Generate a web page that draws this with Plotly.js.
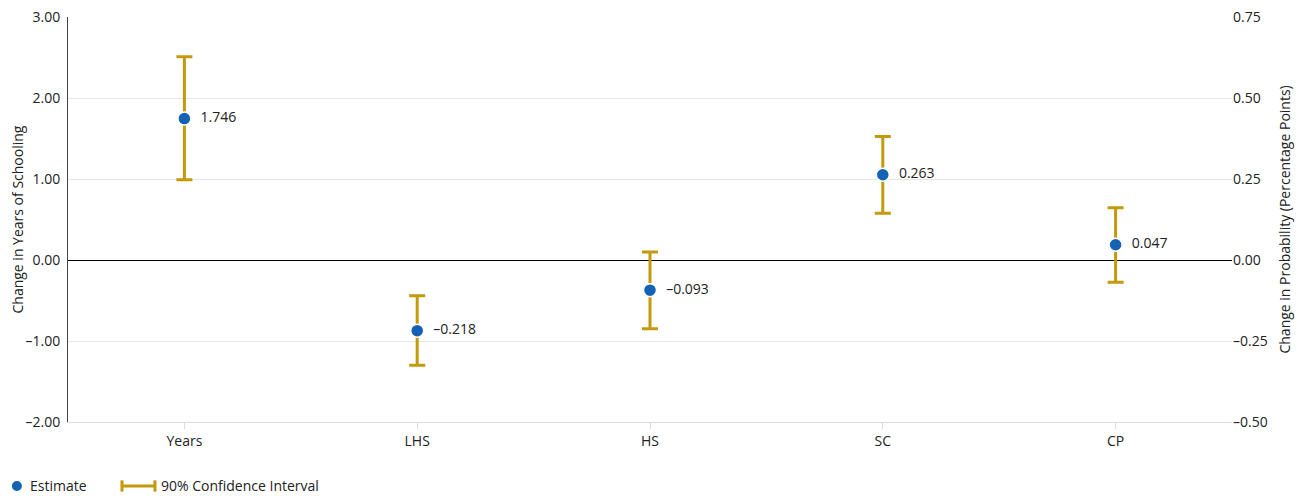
<!DOCTYPE html>
<html>
<head>
<meta charset="utf-8">
<script src="https://cdn.plot.ly/plotly-3.0.1.min.js"></script>
<style>
  html, body { margin: 0; padding: 0; background: #fff; }
  #chart { width: 1300px; height: 496px; }
</style>
</head>
<body>
<div id="chart"></div>
<script>
// Outcome categories
const categories = ["Years", "LHS", "HS", "SC", "CP"];

// Years of schooling (left axis)
const yearsEstimate = [1.746];
const yearsLow = [0.99];
const yearsHigh = [2.51];

// Attainment probabilities (right axis, percentage points)
const probCategories = ["LHS", "HS", "SC", "CP"];
const probEstimate = [-0.218, -0.093, 0.263, 0.047];
const probLow = [-0.325, -0.212, 0.144, -0.069];
const probHigh = [-0.110, 0.025, 0.381, 0.161];

// Axis ticks
const leftTicks = [-2, -1, 0, 1, 2, 3];
const rightTicks = [-0.5, -0.25, 0, 0.25, 0.5, 0.75];

const BLUE = "#1462b4";
const GOLD = "#c49a0c";
const FONT = "Open Sans, Noto Sans, sans-serif";
const FS = 14;

const fmt = (v, d) => (v < 0 ? "\u2013" : "") + Math.abs(v).toFixed(d);

function trace(xs, est, lo, hi, axis) {
  return {
    type: "scatter",
    mode: "markers+text",
    x: xs,
    y: est,
    yaxis: axis,
    // en space keeps the value clear of the marker
    text: est.map(v => "\u2002" + fmt(v, 3)),
    textposition: "middle right",
    textfont: { family: FONT, size: FS, color: "#222" },
    cliponaxis: false,
    marker: { color: BLUE, size: 13, line: { color: "#fff", width: 1.5 } },
    error_y: {
      type: "data",
      symmetric: false,
      array: hi.map((h, i) => h - est[i]),
      arrayminus: lo.map((l, i) => est[i] - l),
      color: GOLD,
      thickness: 3,
      width: 8
    },
    showlegend: false,
    hoverinfo: "x+y"
  };
}

const data = [
  trace(["Years"], yearsEstimate, yearsLow, yearsHigh, "y"),
  trace(probCategories, probEstimate, probLow, probHigh, "y2")
];

// Legend drawn in paper coordinates below the plot
const legY = -0.158;
const shapes = [
  { type: "line", xref: "paper", yref: "paper", x0: 0.0464, x1: 0.0747, y0: legY, y1: legY,
    line: { color: GOLD, width: 3 } },
  { type: "line", xref: "paper", yref: "paper", x0: 0.0464, x1: 0.0464, y0: legY - 0.014, y1: legY + 0.014,
    line: { color: GOLD, width: 3 } },
  { type: "line", xref: "paper", yref: "paper", x0: 0.0747, x1: 0.0747, y0: legY - 0.014, y1: legY + 0.014,
    line: { color: GOLD, width: 3 } },
  { type: "circle", xref: "paper", yref: "paper", fillcolor: BLUE, line: { width: 0 },
    x0: -0.0482, x1: -0.0396, y0: legY - 0.0123, y1: legY + 0.0123 }
];

const annotations = [
  { xref: "paper", yref: "paper", x: -0.0345, y: legY, xanchor: "left", yanchor: "middle",
    text: "Estimate", showarrow: false, font: { family: FONT, size: FS, color: "#222" } },
  { xref: "paper", yref: "paper", x: 0.0780, y: legY, xanchor: "left", yanchor: "middle",
    text: "90% Confidence Interval", showarrow: false, font: { family: FONT, size: FS, color: "#222" } },
  { xref: "paper", yref: "paper", x: 1.0447, y: 0.5, xanchor: "center", yanchor: "middle",
    textangle: -90, text: "Change in Probability (Percentage Points)", showarrow: false,
    font: { family: FONT, size: FS, color: "#222" } },
  { xref: "paper", yref: "paper", x: -0.0438, y: 0.5, xanchor: "center", yanchor: "middle",
    textangle: -90, text: "Change in Years of Schooling", showarrow: false,
    font: { family: FONT, size: FS, color: "#222" } }
];

const layout = {
  width: 1300,
  height: 496,
  margin: { l: 68, r: 68, t: 17, b: 74 },
  paper_bgcolor: "#fff",
  plot_bgcolor: "#fff",
  font: { family: FONT, size: FS, color: "#222" },
  xaxis: {
    type: "category",
    categoryorder: "array",
    categoryarray: categories,
    range: [-0.5, 4.5],
    showgrid: false,
    zeroline: false,
    showline: true,
    linecolor: "#dcdcdc",
    linewidth: 1,
    ticks: "outside",
    ticklen: 6,
    tickcolor: "#dcdcdc",
    tickfont: { family: FONT, size: FS, color: "#222" }
  },
  yaxis: {
    range: [-2, 3],
    tickvals: leftTicks,
    ticktext: leftTicks.map(v => fmt(v, 2)),
    showgrid: true,
    gridcolor: "#e6e6e6",
    gridwidth: 1,
    zeroline: true,
    zerolinecolor: "#000",
    zerolinewidth: 1,
    showline: true,
    linecolor: "#444",
    linewidth: 1,
    ticks: "",
    ticklabelstandoff: 4,
    tickfont: { family: FONT, size: FS, color: "#222" }
  },
  yaxis2: {
    overlaying: "y",
    side: "right",
    range: [-0.5, 0.75],
    tickvals: rightTicks,
    ticktext: rightTicks.map(v => fmt(v, 2)),
    showgrid: false,
    zeroline: false,
    showline: false,
    ticks: "",
    tickfont: { family: FONT, size: FS, color: "#222" }
  },
  shapes: shapes,
  annotations: annotations,
  showlegend: false
};

Plotly.newPlot("chart", data, layout, { displayModeBar: false, staticPlot: true });
</script>
</body>
</html>
